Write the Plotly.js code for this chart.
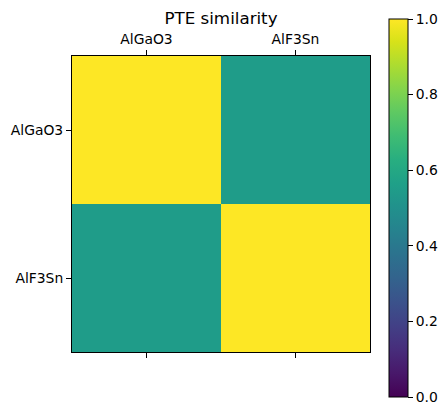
<!DOCTYPE html>
<html>
<head>
<meta charset="utf-8">
<script src="https://cdn.plot.ly/plotly-3.0.1.min.js"></script>
<style>html,body{margin:0;padding:0;background:#fff}</style>
</head>
<body>
<div id="chart" style="width:448px;height:409px"></div>
<script>
const labels = ["AlGaO3", "AlF3Sn"];
const similarity = [
  [1.0, 0.55],
  [0.55, 1.0]
];
const cbTicks = [0, 0.2, 0.4, 0.6, 0.8, 1.0];

const trace = {
  type: 'heatmap',
  x: labels,
  y: labels,
  z: similarity,
  zmin: 0,
  zmax: 1,
  colorscale: 'Viridis',
  xgap: 0, ygap: 0,
  colorbar: {
    x: (389-72)/298, xanchor: 'left',
    y: (352-19)/296, yanchor: 'top',
    lenmode: 'pixels', len: 378,
    thickness: 19,
    thicknessmode: 'pixels',
    outlinewidth: 1, outlinecolor: '#000',
    xpad: 0, ypad: 0,
    tickmode: 'array',
    tickvals: cbTicks,
    ticktext: cbTicks.map(v => v.toFixed(1)),
    ticks: 'outside', ticklen: 5, tickcolor: '#000',
    tickfont: {size: 13.9, color: '#000'}
  },
  hoverinfo: 'x+y+z'
};

const layout = {
  width: 448, height: 409,
  margin: {l: 72, r: 78, t: 56, b: 57, autoexpand: false},
  paper_bgcolor: '#fff', plot_bgcolor: '#fff',
  font: {family: 'DejaVu Sans', size: 13.9, color: '#000'},
  title: {text: 'PTE similarity', x: 221/448, xanchor: 'center', y: (409-18)/409, yanchor: 'middle', font: {size: 16.7}},
  xaxis: {
    side: 'top', type: 'category',
    showline: true, linecolor: '#000', linewidth: 1, mirror: 'ticks',
    ticks: 'outside', ticklen: 5, tickcolor: '#000',
    showgrid: false, zeroline: false,
    tickfont: {size: 13.9}
  },
  yaxis: {
    type: 'category', autorange: 'reversed',
    showline: true, linecolor: '#000', linewidth: 1, mirror: true,
    ticks: 'outside', ticklen: 5, tickcolor: '#000',
    showgrid: false, zeroline: false,
    tickfont: {size: 13.9}
  }
};

Plotly.newPlot('chart', [trace], layout, {displayModeBar: false, staticPlot: true});
</script>
</body>
</html>
